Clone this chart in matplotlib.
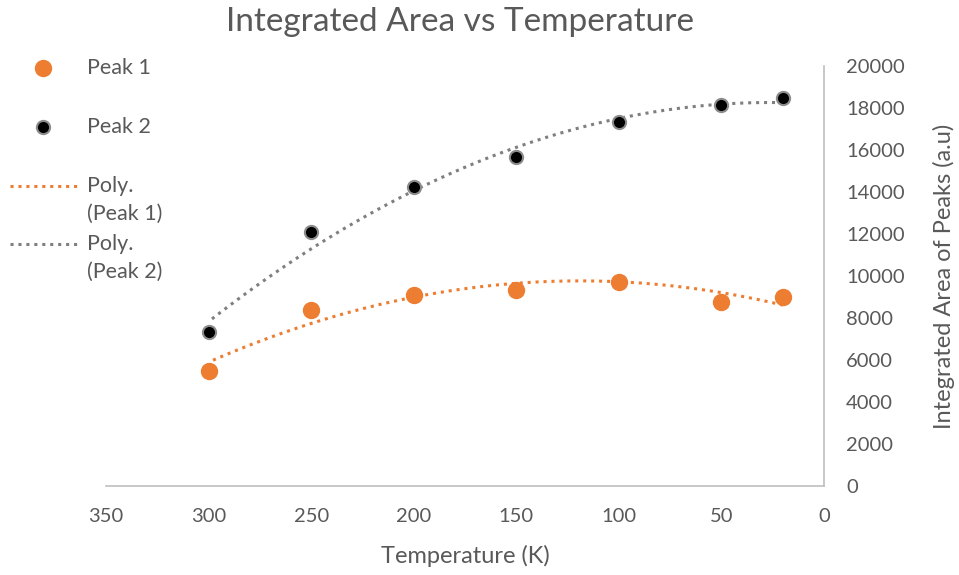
import numpy as np
import matplotlib.pyplot as plt
from matplotlib.lines import Line2D

plt.rcParams['font.family'] = ['Lato', 'DejaVu Sans']

# data
temperature = [300, 250, 200, 150, 100, 50, 20]
peak1 = [5480, 8400, 9100, 9350, 9700, 8780, 9020]
peak2 = [7330, 12100, 14240, 15650, 17320, 18170, 18460]

orange = '#ED7D31'
trend_grey = '#7F7F7F'
grey_txt = '#595959'

W, H = 959, 575
fig = plt.figure(figsize=(W / 100, H / 100), dpi=100)
ax = fig.add_axes([106 / W, 0.155, 718 / W, 0.730])

# polynomial trendlines (order 2), like Excel
xs = np.linspace(min(temperature), max(temperature), 200)
c1 = np.polyfit(temperature, peak1, 2)
c2 = np.polyfit(temperature, peak2, 2)

ax.plot(temperature, peak1, 'o', color=orange, markersize=11.5, zorder=3)
ax.plot(temperature, peak2, 'o', color='black', markeredgecolor='#8C8C8C',
        markeredgewidth=1.5, markersize=9.5, zorder=3)
ax.plot(xs, np.polyval(c1, xs), color=orange, lw=2.2, linestyle=(0, (1, 1.6)), zorder=2)
ax.plot(xs, np.polyval(c2, xs), color=trend_grey, lw=2.2, linestyle=(0, (1, 1.6)), zorder=2)

ax.set_xlim(350, 0)
ax.set_ylim(0, 20000)
ax.set_xticks([350, 300, 250, 200, 150, 100, 50, 0])
ax.set_yticks(range(0, 20001, 2000))

ax.yaxis.tick_right()
ax.yaxis.set_label_position('right')
for s in ['left', 'top']:
    ax.spines[s].set_visible(False)
for s in ['bottom', 'right']:
    ax.spines[s].set_color('#BFBFBF')
    ax.spines[s].set_linewidth(1.2)
ax.tick_params(axis='x', length=0, pad=16, labelsize=14.5, labelcolor=grey_txt)
ax.tick_params(axis='y', length=0, pad=16, labelsize=14.5, labelcolor=grey_txt)

ax.set_xlabel('Temperature (K)', fontsize=17, color=grey_txt, labelpad=14)
ax.set_ylabel('Integrated Area of Peaks (a.u)', fontsize=17, color=grey_txt, labelpad=20)
fig.text(0.48, 1 - 22 / H, 'Integrated Area vs Temperature', fontsize=24,
         color=grey_txt, ha='center', va='center')

# legend on the left, Excel style (handle next to first line of label)
def fx(px):
    return px / W

def fy(py):
    return 1 - py / H

fig.add_artist(Line2D([fx(43)], [fy(68)], marker='o', color=orange, markersize=11.5,
                      linestyle='none', transform=fig.transFigure))
fig.add_artist(Line2D([fx(43)], [fy(127)], marker='o', color='black',
                      markeredgecolor='#8C8C8C', markeredgewidth=1.5, markersize=9.5,
                      linestyle='none', transform=fig.transFigure))
fig.add_artist(Line2D([fx(10), fx(80)], [fy(186), fy(186)], color=orange, lw=2.2,
                      linestyle=(0, (1, 1.6)), transform=fig.transFigure))
fig.add_artist(Line2D([fx(10), fx(80)], [fy(244), fy(244)], color=trend_grey, lw=2.2,
                      linestyle=(0, (1, 1.6)), transform=fig.transFigure))
legend_labels = [('Peak 1', 68), ('Peak 2', 127), ('Poly.', 186), ('(Peak 1)', 214),
                 ('Poly.', 244), ('(Peak 2)', 272)]
for txt, py in legend_labels:
    fig.text(fx(87), fy(py), txt, fontsize=15.5, color=grey_txt, ha='left', va='center')

fig.savefig('out.png', dpi=100)
